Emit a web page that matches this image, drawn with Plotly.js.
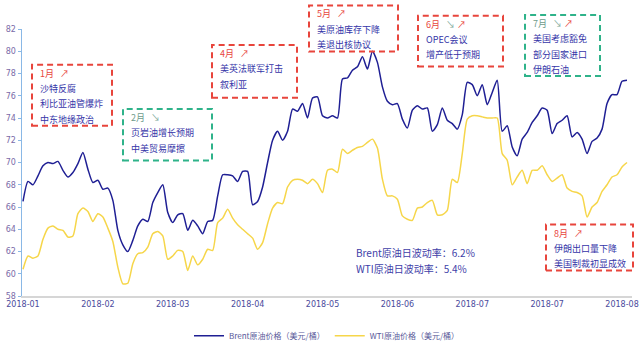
<!DOCTYPE html>
<html><head><meta charset="utf-8">
<script src="https://cdn.plot.ly/plotly-3.0.1.min.js"></script>
<style>html,body{margin:0;padding:0;background:#fff}#chart{width:640px;height:358px}</style>
</head><body><div id="chart"></div>
<script>
const tickLabels = ["2018-01","2018-02","2018-03","2018-04","2018-05","2018-06","2018-07","2018-07","2018-08"];
const brent = [66.5,68.3,68.0,68.8,69.7,70.0,69.9,70.1,69.3,68.7,69.1,69.9,70.9,69.4,68.2,68.4,67.6,67.7,66.6,63.9,
62.6,62.0,63.0,64.3,64.9,64.7,66.4,67.3,68.0,65.5,64.6,65.3,65.4,63.9,64.8,64.3,63.6,64.7,64.8,67.0,
68.9,68.9,68.8,68.3,69.2,69.2,66.2,66.5,67.8,70.0,72.0,72.8,72.0,72.8,74.8,74.6,75.3,74.0,75.8,75.9,
74.2,74.0,74.2,74.0,77.5,77.6,78.3,78.6,79.5,78.4,80.0,79.0,76.8,75.5,75.2,75.3,73.9,73.1,74.7,75.1,
74.8,74.9,72.8,73.4,74.9,73.8,73.5,73.0,74.3,77.2,77.0,76.0,77.0,75.2,76.3,77.4,72.8,73.3,71.4,70.6,
72.1,72.7,73.6,74.2,74.9,74.7,72.6,73.5,73.8,74.2,72.3,72.7,72.1,70.8,71.9,72.2,73.0,75.3,76.1,76.1,
77.3,77.4];
const wti = [60.4,61.6,61.4,61.6,63.1,64.1,64.3,64.0,63.9,63.3,63.4,65.4,65.9,65.6,64.7,65.4,65.1,64.1,62.9,60.6,
59.1,59.15,60.9,61.8,61.9,62.4,63.6,63.8,63.4,61.3,61.6,62.1,62.0,60.3,61.6,60.8,61.3,62.2,62.1,64.6,
65.0,65.8,65.0,64.4,64.0,63.6,63.2,62.2,62.8,64.5,65.9,66.4,66.3,67.8,68.4,68.5,68.4,68.1,68.5,68.1,
67.3,69.3,69.4,69.1,71.2,70.8,71.1,71.35,71.45,71.8,72.1,71.3,68.5,67.0,67.0,66.7,65.2,64.9,64.8,65.9,
66.0,66.4,66.6,65.3,65.3,65.7,68.5,68.2,70.8,73.9,74.2,74.2,74.1,74.0,74.0,74.0,70.8,70.2,68.0,68.7,
69.3,68.1,69.3,69.3,69.7,68.9,68.3,68.6,68.9,67.7,67.4,67.3,67.0,65.1,66.0,66.4,67.4,68.0,68.7,68.9,
69.6,70.0];
const seriesNames = ["Brent原油价格（美元/桶）","WTI原油价格（美元/桶）"];
const volText = ["Brent原油日波动率：6.2%","WTI原油日波动率：5.4%"];
const notes = [
  {head:"1月", arrows:["up"], lines:["沙特反腐","利比亚油管爆炸","中东地缘政治"], color:"red", box:[32,67,112,132]},
  {head:"2月", arrows:["down"], lines:["页岩油增长预期","中美贸易摩擦"], color:"green", box:[123,114,212,169]},
  {head:"4月", arrows:["up"], lines:["美英法联军打击","叙利亚"], color:"red", box:[212,46,297,102]},
  {head:"5月", arrows:["up"], lines:["美原油库存下降","美退出核协议"], color:"red", box:[309,4,398,53]},
  {head:"6月", arrows:["down","up"], lines:["OPEC会议","增产低于预期"], color:"red", box:[418,15,503,69]},
  {head:"7月", arrows:["down","up"], lines:["美国考虑豁免","部分国家进口","伊朗石油"], color:"green", box:[525,14,600,79]},
  {head:"8月", arrows:["up"], lines:["伊朗出口量下降","美国制裁初显成效"], color:"red", box:[546,237,633,286]}
];

const idx = brent.map((_, i) => i);
const L = 22, T = 29, W = 610, H = 284;
const px = x => (x - L) / W;
const py = y => (T + H - y) / H;
const RED = "#e8453c", GREEN = "#2fb38a", TXT = "#3535a8";

const shapes = [], annotations = [];
notes.forEach(n => {
  const [x0, y0, x1, y1] = n.box;
  shapes.push({type:"rect", xref:"paper", yref:"paper", x0:px(x0), x1:px(x1), y0:py(y1), y1:py(y0),
    line:{color:n.color === "red" ? RED : GREEN, width:2, dash:"6px,4px"}, fillcolor:"rgba(0,0,0,0)"});
  const arr = n.arrows.map(a => a === "up" ? '<span style="color:' + RED + '">↗</span>' : '<span style="color:#7aa89a">↘</span>').join(" ");
  const headColor = n.color === "red" ? RED : "#6f9c8c";
  const step = 16.3;
  annotations.push({xref:"paper", yref:"paper", x:px(x0 + 6), y:py(y0 + 9), xanchor:"left", yanchor:"middle", showarrow:false,
    text:'<span style="color:' + headColor + '">' + n.head + '</span>   ' + arr, font:{size:9, family:"Noto Sans CJK SC"}});
  n.lines.forEach((t, k) => {
    annotations.push({xref:"paper", yref:"paper", x:px(x0 + 6), y:py(y0 + 9 + step * (k + 1)), xanchor:"left", yanchor:"middle", showarrow:false,
      text:t, font:{size:9, color:TXT, family:"Noto Sans CJK SC"}});
  });
});
volText.forEach((t, k) => {
  annotations.push({xref:"paper", yref:"paper", x:px(354), y:py(267 + 16.5 * k), xanchor:"left", yanchor:"middle", showarrow:false,
    text:t, font:{size:10, color:"#4040a8", family:"Noto Sans CJK SC"}});
});

const data = [
  {x:idx, y:brent, name:seriesNames[0], type:"scatter", mode:"lines", line:{color:"#1f1f94", width:1.5, shape:"spline", smoothing:0.6}},
  {x:idx, y:wti, name:seriesNames[1], type:"scatter", mode:"lines", line:{color:"#f6d64a", width:1.5, shape:"spline", smoothing:0.6}}
];
const layout = {
  width:640, height:358, margin:{l:L, r:640 - L - W, t:T, b:358 - T - H},
  paper_bgcolor:"#fff", plot_bgcolor:"#fff", showlegend:true,
  legend:{orientation:"h", x:0.5, xanchor:"center", y:-0.095, yanchor:"top", font:{size:8, color:"#5a5a9a", family:"Noto Sans CJK SC"}, itemwidth:30},
  xaxis:{range:[-0.2, 122], tickmode:"array", tickvals:tickLabels.map((_, i) => i * 15), ticktext:tickLabels,
    showgrid:false, zeroline:false, showline:true, linecolor:"#d6d6d6", linewidth:1.5, ticks:"", tickfont:{size:8, color:"#4a4a9c", family:"DejaVu Sans"}},
  yaxis:{range:[58, 82], dtick:2, tick0:58, showgrid:false, zeroline:false, showline:true, linecolor:"#8ab8e6", linewidth:1.5,
    ticks:"outside", ticklen:3, tickcolor:"#8ab8e6", tickfont:{size:8, color:"#7a6aa8", family:"DejaVu Sans"}},
  shapes:shapes, annotations:annotations
};
Plotly.newPlot("chart", data, layout, {displayModeBar:false, staticPlot:true});
</script></body></html>
